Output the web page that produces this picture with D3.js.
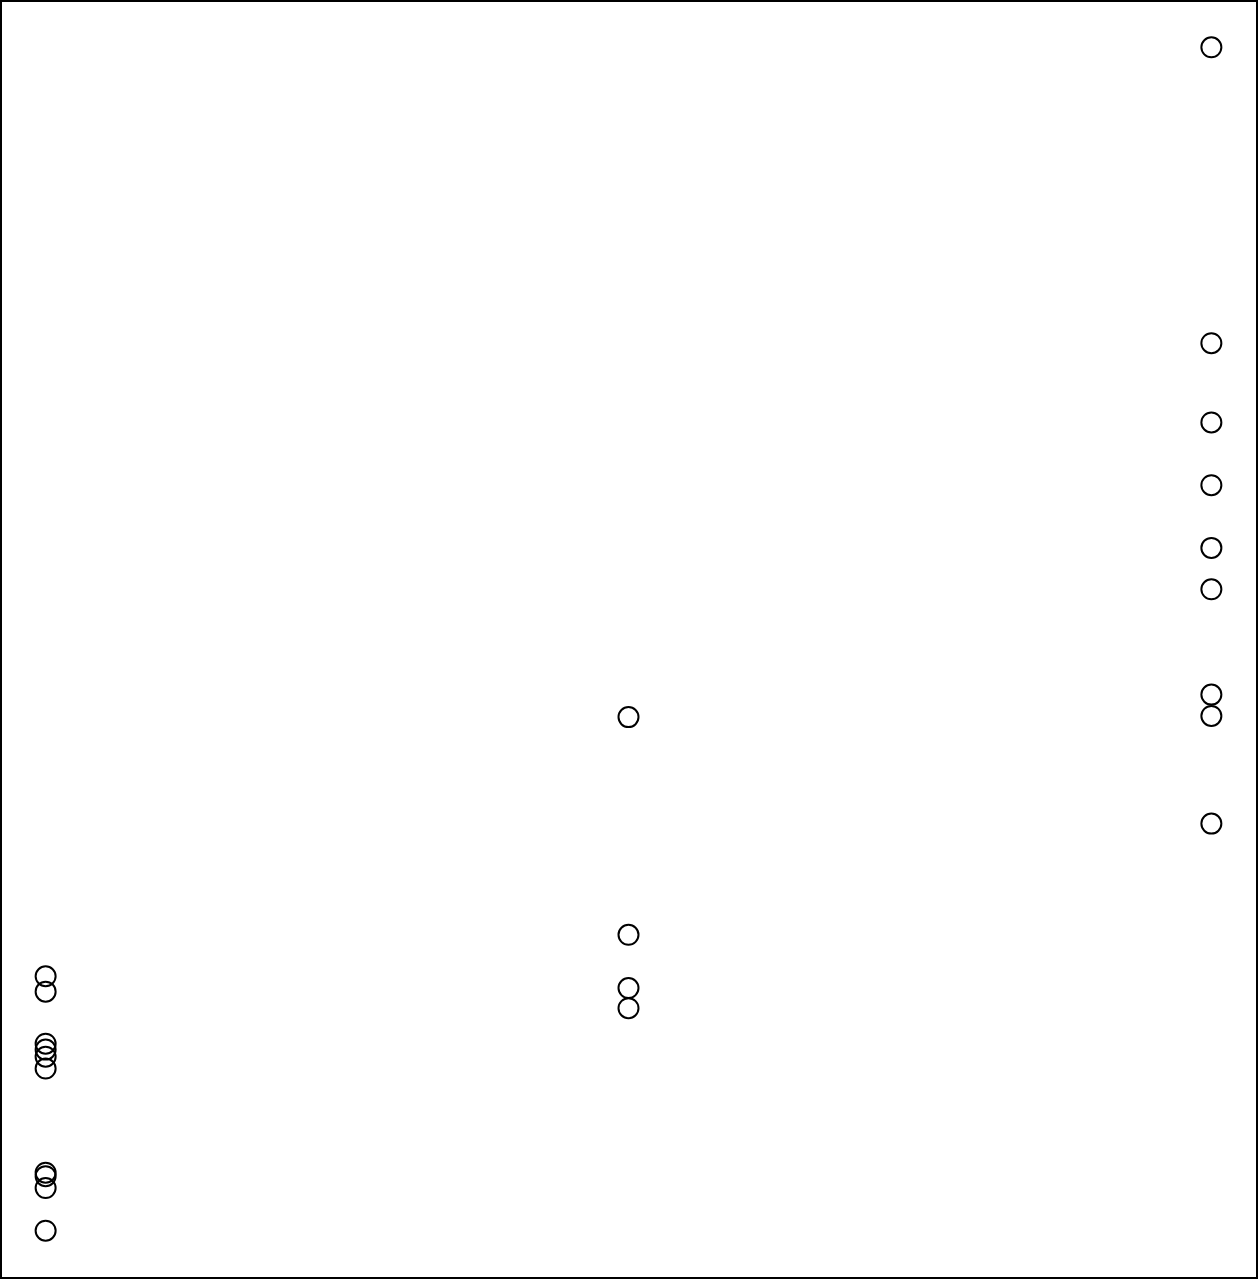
<!DOCTYPE html>
<html>
<head>
<meta charset="utf-8">
<script src="https://cdn.jsdelivr.net/npm/d3@7"></script>
<style>
html,body{margin:0;padding:0;background:#fff;}
svg{display:block;}
</style>
</head>
<body>
<script>
// Three groups (x positions 1, 2, 3) with their values
const groups = [1, 2, 3];
const group1Values = [21.5, 20.2, 15.8, 15.3, 14.7, 13.7, 4.9, 4.6, 3.6, 0.0];
const group2Values = [43.4, 25.0, 20.5, 18.8];
const group3Values = [100.0, 75.0, 68.3, 63.0, 57.7, 54.2, 45.3, 43.5, 34.4];

const series = [group1Values, group2Values, group3Values];
const points = [];
series.forEach((vals, i) => vals.forEach(v => points.push({x: groups[i], y: v})));

const W = 1259, H = 1280;
const svg = d3.select("body").append("svg").attr("width", W).attr("height", H);

// R-style 4% axis extension
const xMin = d3.min(groups), xMax = d3.max(groups);
const xPad = (xMax - xMin) * 0.04;
const allY = points.map(p => p.y);
const yMin = d3.min(allY), yMax = d3.max(allY);
const yPad = (yMax - yMin) * 0.04;

const x = d3.scaleLinear().domain([xMin - xPad, xMax + xPad]).range([-1, 1258]);
const y = d3.scaleLinear().domain([yMin - yPad, yMax + yPad]).range([1278, 0]);

svg.append("rect")
  .attr("x", 1).attr("y", 1)
  .attr("width", 1256).attr("height", 1277)
  .attr("fill", "none").attr("stroke", "#000").attr("stroke-width", 2);

svg.append("g").selectAll("circle").data(points).join("circle")
  .attr("cx", d => x(d.x))
  .attr("cy", d => y(d.y))
  .attr("r", 10)
  .attr("fill", "none")
  .attr("stroke", "#000")
  .attr("stroke-width", 2);
</script>
</body>
</html>
